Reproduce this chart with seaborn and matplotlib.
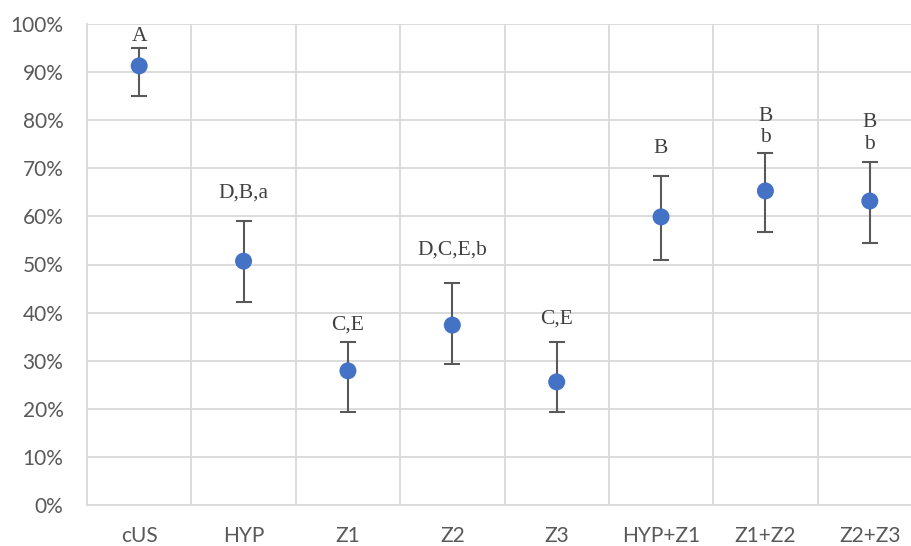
import matplotlib
matplotlib.use("Agg")
import matplotlib.pyplot as plt
import seaborn as sns
import numpy as np
import pandas as pd

# data (percent)
groups = ["cUS", "HYP", "Z1", "Z2", "Z3", "HYP+Z1", "Z1+Z2", "Z2+Z3"]
mean_pct = [91.3, 50.7, 27.9, 37.4, 25.6, 59.9, 65.3, 63.2]
upper_pct = [95.0, 59.0, 33.9, 46.2, 33.9, 68.4, 73.2, 71.3]
lower_pct = [85.0, 42.2, 19.3, 29.3, 19.3, 50.9, 56.8, 54.5]
letters = ["A", "D,B,a", "C,E", "D,C,E,b", "C,E", "B", "B\nb", "B\nb"]
letter_pct = [97.3, 64.9, 37.4, 53.0, 38.7, 74.2, 78.6, 77.2]

df = pd.DataFrame({"group": groups, "mean": mean_pct})
x = np.arange(len(groups))

sns.set_style("white")
fig = plt.figure(figsize=(9.11, 5.46), dpi=100)
ax = fig.add_axes([87 / 911, 41 / 546, (922 - 87) / 911, 481 / 546])

grid_c = "#d9d9d9"
text_c = "#595959"

# error bars
ax.errorbar(x, mean_pct,
            yerr=[np.array(mean_pct) - np.array(lower_pct),
                  np.array(upper_pct) - np.array(mean_pct)],
            fmt="none", ecolor=text_c, elinewidth=1.5, capsize=6, capthick=1.5, zorder=3)

sns.scatterplot(data=df, x=x, y="mean", color="#4472C4", s=150,
                edgecolor="none", ax=ax, zorder=4, legend=False)

for xi, lab, yl in zip(x, letters, letter_pct):
    ax.text(xi, yl, lab, ha="center", va="center", fontsize=15.5,
            family="Liberation Serif", color="#404040", linespacing=1.2)

ax.set_xlim(-0.5, 7.5)
ax.set_ylim(0, 100)
ax.set_yticks(np.arange(0, 101, 10))
ax.set_yticklabels([f"{v}%" for v in range(0, 101, 10)])
ax.set_xticks(x)
ax.set_xticklabels(groups)
ax.set_xticks(np.arange(0.5, 7.5, 1), minor=True)

ax.grid(True, axis="y", which="major", color=grid_c, lw=1.3)
ax.grid(True, axis="x", which="minor", color=grid_c, lw=1.3)
ax.grid(False, axis="x", which="major")
ax.set_axisbelow(True)

for side in ["top", "right"]:
    ax.spines[side].set_visible(False)
for side in ["left", "bottom"]:
    ax.spines[side].set_color(grid_c)
    ax.spines[side].set_linewidth(1.3)

ax.tick_params(axis="both", which="both", length=0)
ax.tick_params(axis="y", pad=17, labelsize=15, labelcolor=text_c)
ax.tick_params(axis="x", pad=15, labelsize=15, labelcolor=text_c)
for lab in ax.get_xticklabels() + ax.get_yticklabels():
    lab.set_family("Lato")

ax.set_xlabel("")
ax.set_ylabel("")

fig.savefig("out.png", dpi=100)
